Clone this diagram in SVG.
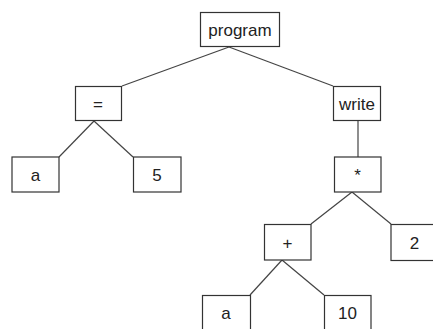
<svg xmlns="http://www.w3.org/2000/svg" width="433" height="329" viewBox="0 0 433 329">
<style>
.box{fill:#fff;stroke:#333;stroke-width:1.2}
.lbl{font-family:"Liberation Sans",Arial,sans-serif;font-size:17px;fill:#222;text-anchor:middle}
.edge{stroke:#444;stroke-width:1.2;fill:none}
</style>
<rect width="433" height="329" fill="#fff"/>
<g id="connectors">
<line class="edge" x1="229" y1="47" x2="122" y2="86"/>
<line class="edge" x1="229" y1="47" x2="333" y2="86"/>
<line class="edge" x1="94" y1="121" x2="59" y2="157"/>
<line class="edge" x1="94" y1="121" x2="133" y2="157"/>
<line class="edge" x1="358" y1="121" x2="358" y2="157"/>
<line class="edge" x1="352" y1="192" x2="311" y2="224"/>
<line class="edge" x1="352" y1="192" x2="391" y2="224"/>
<line class="edge" x1="282" y1="260" x2="250" y2="295"/>
<line class="edge" x1="282" y1="260" x2="324" y2="295"/>
</g>
<g id="node-program"><rect class="box" x="200.5" y="12.5" width="79" height="34"/><text class="lbl" x="240" y="36">program</text></g>
<g id="node-assign"><rect class="box" x="75.5" y="86.5" width="46" height="34"/><text class="lbl" x="98" y="110">=</text></g>
<g id="node-write"><rect class="box" x="333.5" y="86.5" width="47" height="34"/><text class="lbl" x="357" y="110">write</text></g>
<g id="node-a1"><rect class="box" x="12" y="157" width="47" height="35"/><text class="lbl" x="35.5" y="181">a</text></g>
<g id="node-5"><rect class="box" x="133.5" y="157" width="47.5" height="35"/><text class="lbl" x="157" y="181">5</text></g>
<g id="node-mul"><rect class="box" x="334.5" y="157" width="46.5" height="35"/><text class="lbl" x="357.5" y="181">*</text></g>
<g id="node-plus"><rect class="box" x="264.5" y="224.5" width="46.5" height="35.5"/><text class="lbl" x="287.5" y="248.5">+</text></g>
<g id="node-2"><rect class="box" x="391" y="224.5" width="47" height="36"/><text class="lbl" x="414.5" y="248.5">2</text></g>
<g id="node-a2"><rect class="box" x="202.5" y="295.5" width="48" height="35"/><text class="lbl" x="226" y="319">a</text></g>
<g id="node-10"><rect class="box" x="324.5" y="295.5" width="46.5" height="35"/><text class="lbl" x="347.5" y="319">10</text></g>
</svg>
